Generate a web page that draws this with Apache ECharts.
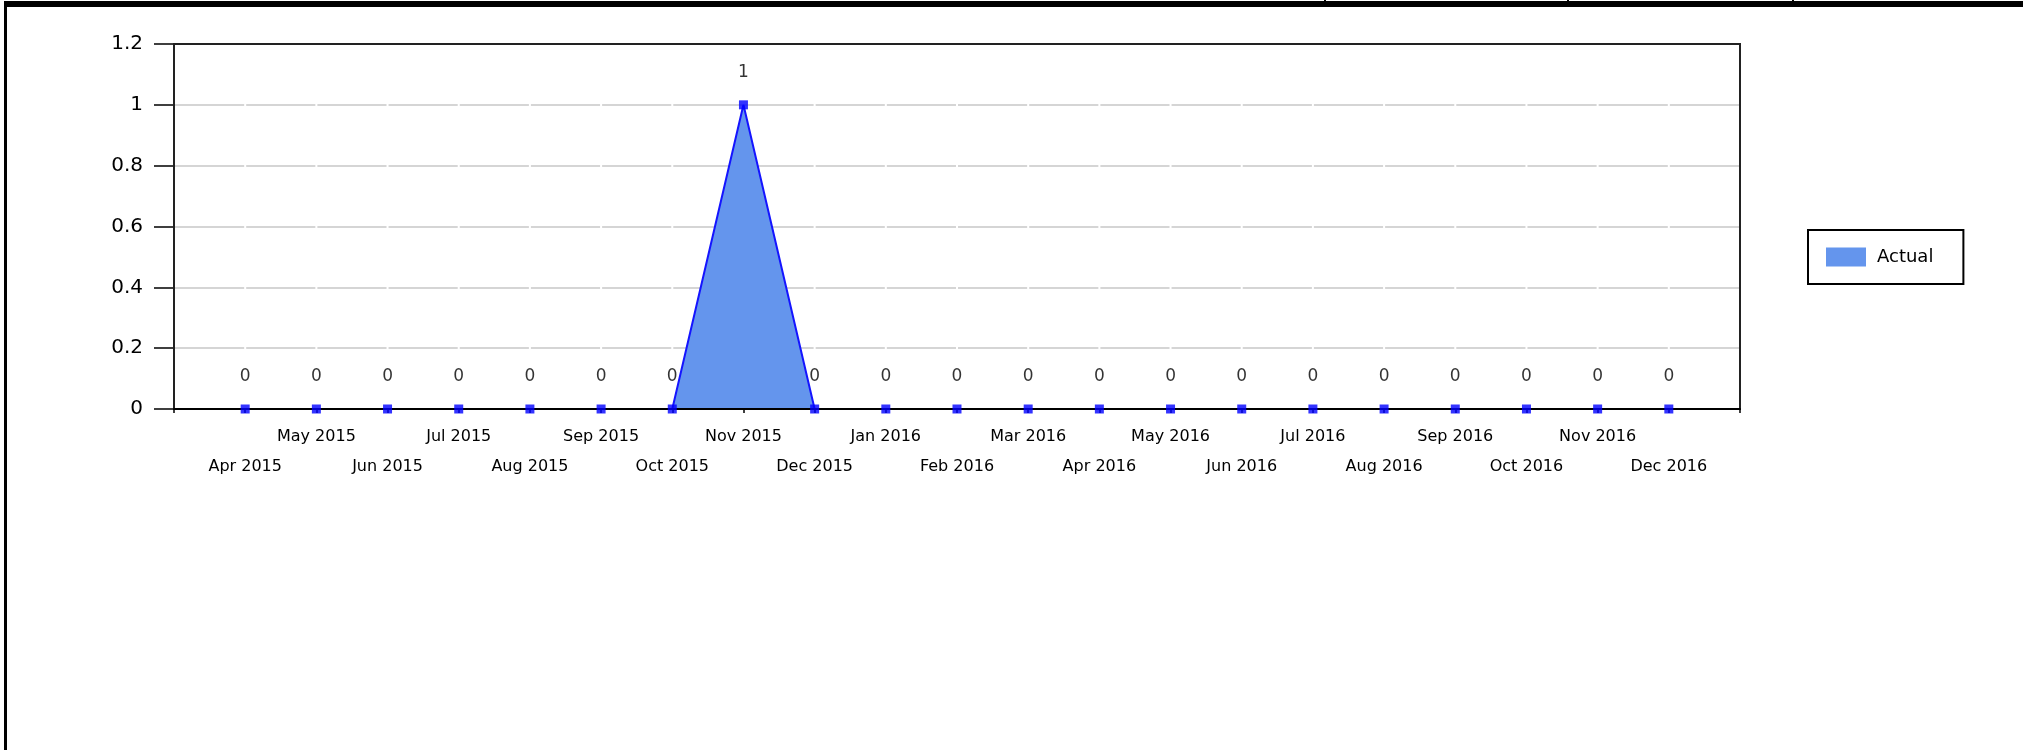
<!DOCTYPE html>
<html><head><meta charset="utf-8">
<script src="https://cdn.jsdelivr.net/npm/echarts@6/dist/echarts.min.js"></script>
<style>html,body{margin:0;padding:0;background:#fff}#c{width:2023px;height:750px}</style>
</head><body><div id="c"></div>
<script>
const categories = ['Apr 2015','May 2015','Jun 2015','Jul 2015','Aug 2015','Sep 2015','Oct 2015','Nov 2015','Dec 2015','Jan 2016','Feb 2016','Mar 2016','Apr 2016','May 2016','Jun 2016','Jul 2016','Aug 2016','Sep 2016','Oct 2016','Nov 2016','Dec 2016'];
const actual = [0,0,0,0,0,0,0,1,0,0,0,0,0,0,0,0,0,0,0,0,0];
const yTicks = [0,0.2,0.4,0.6,0.8,1,1.2];
const seriesName = 'Actual';

const FONT = 'DejaVu Sans';
const axisCats = [''].concat(categories, ['']);
const axisData = ['-'].concat(actual, ['-']);
const gridLeft = 174, gridRight = 283;
const step = (2023 - gridLeft - gridRight) / (axisCats.length - 1);

const chart = echarts.init(document.getElementById('c'), null, {renderer: 'canvas'});
chart.setOption({
  animation: false,
  backgroundColor: '#fff',
  grid: {left: gridLeft, right: gridRight, top: 44, bottom: 341, show: true,
         borderColor: '#222', borderWidth: 2, z: 2, backgroundColor: 'transparent'},
  legend: {
    left: 1808, top: 230, orient: 'vertical',
    data: [{name: seriesName, icon: 'rect', itemStyle: {color: '#6495ED', borderWidth: 0}}],
    itemWidth: 40, itemHeight: 19,
    padding: [17, 30, 17, 18],
    borderColor: '#000', borderWidth: 2, borderRadius: 0,
    textStyle: {fontFamily: FONT, fontSize: 18, color: '#000', lineHeight: 20, padding: [0, 0, 0, 6]}
  },
  xAxis: {
    type: 'category', data: axisCats, boundaryGap: false, z: 2,
    axisLine: {lineStyle: {color: '#000', width: 2}},
    axisTick: {show: true, length: 4, inside: false, lineStyle: {color: '#000', width: 1.5}},
    axisLabel: {
      interval: 0, margin: 13, fontFamily: FONT, fontSize: 16, color: '#000', lineHeight: 30,
      formatter: (v, i) => (i % 2 === 1 ? '\n' + v : v)
    },
    splitLine: {show: false}
  },
  yAxis: {
    type: 'value', min: yTicks[0], max: yTicks[yTicks.length - 1], interval: yTicks[1] - yTicks[0], z: 0,
    axisLine: {show: true, lineStyle: {color: '#000', width: 2}},
    axisTick: {show: true, length: 20, inside: false, lineStyle: {color: '#000', width: 1.5}},
    axisLabel: {margin: 31, fontFamily: FONT, fontSize: 20, color: '#000',
      formatter: v => String(Math.round(v * 10) / 10)},
    splitLine: {show: true, lineStyle: {color: '#c8c8c8', width: 1.5, type: [step - 2, 2], dashOffset: -1}}
  },
  series: [
    {
      name: seriesName, type: 'line', data: axisData, z: 1,
      showSymbol: false, symbol: 'none',
      lineStyle: {color: '#1414ff', width: 2},
      itemStyle: {color: '#6495ED'},
      areaStyle: {color: '#6495ED', opacity: 1},
      label: {show: false}
    },
    {
      name: 'pts', type: 'scatter', data: axisData, z: 3,
      symbol: 'rect', symbolSize: 9,
      itemStyle: {color: '#0000ff'},
      label: {show: true, position: 'top', distance: 19, fontFamily: FONT, fontSize: 17, color: '#000',
        formatter: p => String(p.value)}
    }
  ],
  graphic: [
    {type: 'rect', shape: {x: 4, y: 1, width: 2019, height: 6}, style: {fill: '#000'}},
    {type: 'rect', shape: {x: 4, y: 1, width: 3, height: 749}, style: {fill: '#000'}},
    {type: 'rect', shape: {x: 1324, y: 0, width: 2, height: 3}, style: {fill: '#000'}},
    {type: 'rect', shape: {x: 1567, y: 0, width: 2, height: 3}, style: {fill: '#000'}},
    {type: 'rect', shape: {x: 1792, y: 0, width: 2, height: 3}, style: {fill: '#000'}}
  ]
});
</script></body></html>
